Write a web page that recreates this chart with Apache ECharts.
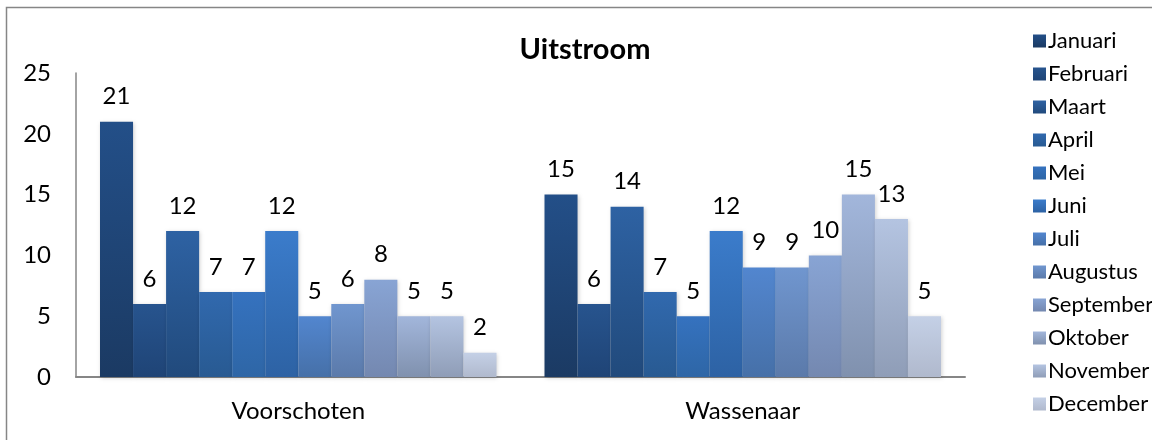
<!DOCTYPE html>
<html>
<head>
<meta charset="utf-8">
<script src="https://cdn.jsdelivr.net/npm/echarts@6/dist/echarts.min.js"></script>
<style>
  html, body { margin: 0; padding: 0; background: #fff; }
  #chart { width: 1152px; height: 440px; }
</style>
</head>
<body>
<div id="chart"></div>
<script>
const places = ['Voorschoten', 'Wassenaar']
const months = ['Januari', 'Februari', 'Maart', 'April', 'Mei', 'Juni', 'Juli',
  'Augustus', 'September', 'Oktober', 'November', 'December']
// per maand: [Voorschoten, Wassenaar]
const values = [
  [21, 15], [6, 6], [12, 14], [7, 7], [7, 5], [12, 12],
  [5, 9], [6, 9], [8, 10], [5, 15], [5, 13], [2, 5]
]
const topColors = ['#234f88', '#27548e', '#2e62a3', '#3169ae', '#3572bf', '#3b7ccb',
  '#5286cf', '#7096cf', '#88a4d4', '#a2b6db', '#b4c4e1', '#c4d0e6']
const bottomColors = ['#1b3a63', '#1f4476', '#214a7c', '#285a92', '#2e66a6', '#2d62a4',
  '#4670a8', '#5b7aaa', '#7488b0', '#8091ae', '#8f9db7', '#b0b9cd']
const yTicks = [0, 5, 10, 15, 20, 25]

const font = 'Lato, "Noto Sans", sans-serif'
const chart = echarts.init(document.getElementById('chart'))

const series = months.map((m, i) => ({
  name: m,
  type: 'bar',
  data: values[i],
  barGap: 0,
  barCategoryGap: '10.8%',
  itemStyle: {
    color: new echarts.graphic.LinearGradient(0, 0, 0, 1, [
      { offset: 0, color: topColors[i] },
      { offset: 1, color: bottomColors[i] }
    ]),
    shadowColor: 'rgba(0,0,0,0.18)',
    shadowBlur: 4,
    shadowOffsetX: 1,
    shadowOffsetY: 1
  },
  label: {
    show: true,
    position: 'top',
    distance: 13,
    color: '#000',
    fontSize: 24,
    fontFamily: font
  }
}))

chart.setOption({
  animation: false,
  title: {
    text: 'Uitstroom',
    left: 580,
    top: 30,
    textAlign: 'center',
    textStyle: { fontSize: 29, fontWeight: 'bold', color: '#000', fontFamily: font }
  },
  legend: {
    orient: 'vertical',
    left: 1028,
    top: 25,
    itemWidth: 13,
    itemHeight: 13,
    itemGap: 11,
    icon: 'rect',
    textStyle: { fontSize: 22, color: '#000', fontFamily: font, padding: [0, 0, 0, -3] },
    data: months
  },
  grid: { left: 76, right: 187, top: 73, bottom: 63, containLabel: false },
  xAxis: {
    type: 'category',
    data: places,
    axisLine: { lineStyle: { color: '#868686', width: 2 } },
    axisTick: { show: false },
    axisLabel: { color: '#000', fontSize: 24, fontFamily: font, margin: 22 }
  },
  yAxis: {
    type: 'value',
    min: yTicks[0],
    max: yTicks[yTicks.length - 1],
    interval: 5,
    axisLine: { show: true, lineStyle: { color: '#868686', width: 1.5 } },
    axisTick: { show: false },
    splitLine: { show: false },
    axisLabel: { color: '#000', fontSize: 24, fontFamily: font, margin: 25 }
  },
  graphic: [{
    type: 'rect',
    shape: { x: 6.5, y: 7.5, width: 1200, height: 500 },
    style: { fill: 'none', stroke: '#868686', lineWidth: 1.5 },
    silent: true
  }],
  series
})
</script>
</body>
</html>
